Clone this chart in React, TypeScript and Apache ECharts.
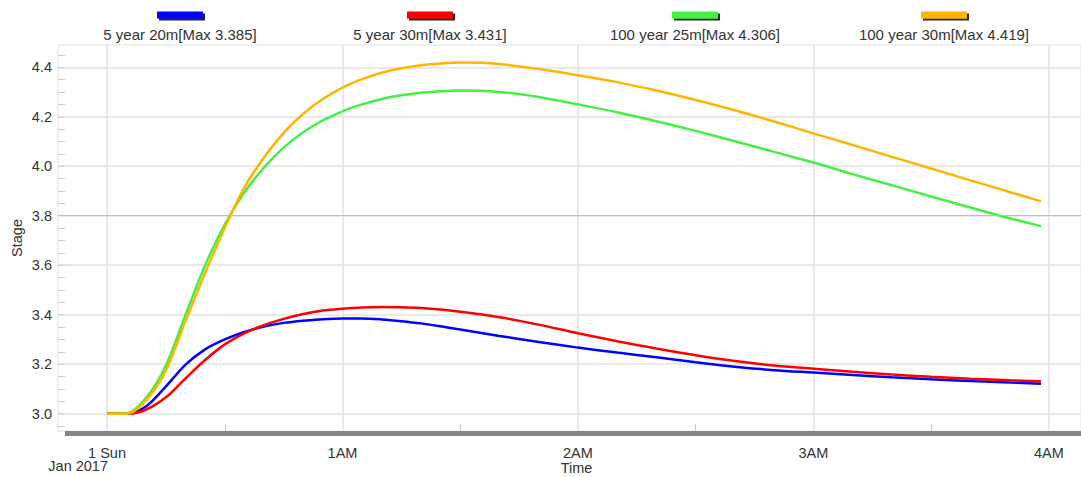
import React, { useEffect, useRef } from "react";
import * as echarts from "echarts";

const seriesNames = [
  "5 year 20m[Max 3.385]",
  "5 year 30m[Max 3.431]",
  "100 year 25m[Max 4.306]",
  "100 year 30m[Max 4.419]",
];
const seriesColors = ["#0000ff", "#ff0000", "#44f044", "#ffb400"];

// minutes after 1 Jan 2017 00:00
const times = [0, 5, 10, 15, 20, 25, 30, 35, 40, 45, 50, 55, 60, 65, 70, 75, 80, 85, 90, 100, 110, 120, 130, 140, 150, 160, 170, 180, 190, 200, 210, 220, 230, 238];

const blue5y20 = [3.0, 3.0, 3.03, 3.11, 3.198, 3.26, 3.3, 3.33, 3.352, 3.367, 3.376, 3.382, 3.385, 3.385, 3.381, 3.374, 3.365, 3.353, 3.34, 3.314, 3.29, 3.267, 3.247, 3.228, 3.208, 3.19, 3.176, 3.166, 3.156, 3.147, 3.139, 3.132, 3.126, 3.121];
const red5y30 = [3.0, 3.0, 3.017, 3.066, 3.143, 3.217, 3.28, 3.325, 3.358, 3.383, 3.403, 3.417, 3.424, 3.429, 3.431, 3.43, 3.427, 3.421, 3.412, 3.39, 3.36, 3.325, 3.293, 3.263, 3.236, 3.213, 3.195, 3.182, 3.169, 3.158, 3.149, 3.141, 3.135, 3.131];
const green100y25 = [3.0, 3.002, 3.065, 3.195, 3.4, 3.6, 3.765, 3.895, 3.995, 4.075, 4.137, 4.185, 4.222, 4.25, 4.272, 4.287, 4.297, 4.303, 4.306, 4.3, 4.28, 4.25, 4.218, 4.182, 4.143, 4.101, 4.058, 4.015, 3.968, 3.923, 3.878, 3.833, 3.79, 3.758];
const orange100y30 = [3.0, 3.0, 3.055, 3.175, 3.375, 3.57, 3.75, 3.915, 4.035, 4.135, 4.212, 4.272, 4.318, 4.352, 4.378, 4.396, 4.408, 4.415, 4.419, 4.413, 4.393, 4.368, 4.34, 4.306, 4.268, 4.226, 4.181, 4.133, 4.086, 4.038, 3.991, 3.943, 3.896, 3.858];

const seriesValues = [blue5y20, red5y30, green100y25, orange100y30];

const xMajorTicks = [0, 60, 120, 180, 240];
const xMajorLabels = ["1 Sun", "1AM", "2AM", "3AM", "4AM"];
const xMinorTicks = [30, 90, 150, 210];
const yMajorTicks = [3.0, 3.2, 3.4, 3.6, 3.8, 4.0, 4.2, 4.4];
const yMinorTicks = [2.95, 3.0, 3.05, 3.1, 3.15, 3.2, 3.25, 3.3, 3.35, 3.4, 3.45, 3.5, 3.55, 3.6, 3.65, 3.7, 3.75, 3.8, 3.85, 3.9, 3.95, 4.0, 4.05, 4.1, 4.15, 4.2, 4.25, 4.3, 4.35, 4.4, 4.45];
const thresholdValue = 3.8;

const legendCenters = [180, 430, 695, 944];

const FONT = "Arial, 'Liberation Sans', sans-serif";
const AXIS_FONT = 14.5;

export default function App() {
  const ref = useRef<HTMLDivElement>(null);
  useEffect(() => {
    if (!ref.current) return;
    const chart = echarts.init(ref.current, null, { renderer: "svg" });
    const xMin = -12.5;
    const xMax = 248.2;
    const yMin = 2.93;
    const yMax = 4.49;

    const legends = seriesNames.map((name, i) => ({
      show: true,
      data: [name],
      left: legendCenters[i] - 110 - 5,
      top: 9,
      padding: 0,
      icon: "none",
      itemWidth: 0,
      itemHeight: 0,
      selectedMode: false,
      formatter: (n: string) => `{bar| }\n{t|${n}}`,
      textStyle: {
        rich: {
          bar: {
            width: 46,
            height: 7,
            backgroundColor: seriesColors[i],
            shadowColor: "rgba(0,0,0,0.85)",
            shadowOffsetX: 2,
            shadowOffsetY: 2,
            align: "center",
          },
          t: {
            width: 220,
            align: "center",
            fontSize: 15,
            color: "#333",
            fontFamily: FONT,
            lineHeight: 32,
          },
        },
      },
    }));

    const option: any = {
      animation: false,
      textStyle: { fontFamily: FONT },
      legend: legends,
      grid: {
        left: 58,
        top: 45,
        right: 0,
        bottom: 46,
        outerBoundsMode: "none",
        containLabel: false,
        show: true,
        borderColor: "#e2e2e2",
        borderWidth: 1,
        backgroundColor: "#fff",
      },
      xAxis: [
        {
          type: "value",
          min: xMin,
          max: xMax,
          name: "Time",
          nameLocation: "middle",
          nameGap: 29,
          nameMoveOverlap: false,
          nameTextStyle: { fontSize: AXIS_FONT, color: "#333", padding: [0, 0, 0, 14] },
          axisLine: { show: false, onZero: false },
          axisTick: { show: false, customValues: xMajorTicks },
          axisLabel: {
            customValues: xMajorTicks,
            margin: 14,
            fontSize: AXIS_FONT,
            color: "#333",
            formatter: (v: number) => {
              const idx = xMajorTicks.indexOf(Math.round(v));
              return idx >= 0 ? xMajorLabels[idx] : "";
            },
          },
          splitLine: { show: true, lineStyle: { color: "#e2e2e2", width: 1.5 } },
        },
        {
          type: "value",
          min: xMin,
          max: xMax,
          position: "bottom",
          axisLine: { show: false, onZero: false },
          axisTick: {
            show: true,
            inside: true,
            length: 7,
            customValues: xMinorTicks,
            lineStyle: { color: "#c8c8c8" },
          },
          axisLabel: { show: false },
          splitLine: { show: false },
        },
      ],
      yAxis: [
        {
          type: "value",
          min: yMin,
          max: yMax,
          name: "Stage",
          nameLocation: "middle",
          nameGap: 34,
          nameMoveOverlap: false,
          nameTextStyle: { fontSize: AXIS_FONT, color: "#333" },
          axisLine: { show: false, onZero: false },
          axisTick: { show: false, customValues: yMajorTicks },
          axisLabel: {
            customValues: yMajorTicks,
            margin: 6,
            fontSize: AXIS_FONT,
            color: "#333",
            formatter: (v: number) => v.toFixed(1),
          },
          splitLine: { show: true, lineStyle: { color: "#e2e2e2", width: 1.5 } },
        },
        {
          type: "value",
          min: yMin,
          max: yMax,
          position: "left",
          axisLine: { show: false, onZero: false },
          axisTick: {
            show: true,
            inside: true,
            length: 7,
            customValues: yMinorTicks,
            lineStyle: { color: "#cfcfcf" },
          },
          axisLabel: { show: false },
          splitLine: { show: false },
        },
      ],
      graphic: [
        {
          type: "rect",
          shape: { x: 65, y: 431, width: 1016, height: 5 },
          style: { fill: "#858585" },
          silent: true,
        },
        {
          type: "text",
          x: 108,
          y: 466,
          style: {
            text: "Jan 2017",
            fontSize: AXIS_FONT,
            fill: "#333",
            fontFamily: FONT,
            align: "right",
            verticalAlign: "middle",
          },
          silent: true,
        },
      ],
      series: seriesNames.map((name, i) => ({
        name,
        type: "line",
        xAxisIndex: 0,
        yAxisIndex: 0,
        data: times.map((t, k) => [t, seriesValues[i][k]]),
        smooth: 0.3,
        showSymbol: false,
        symbol: "none",
        color: seriesColors[i],
        lineStyle: { color: seriesColors[i], width: 2.5 },
        silent: true,
        markLine:
          i === 0
            ? {
                silent: true,
                symbol: "none",
                label: { show: false },
                lineStyle: { color: "#bdbdbd", width: 1.2, type: "solid" },
                data: [{ yAxis: thresholdValue }],
              }
            : undefined,
      })),
    };
    chart.setOption(option);
    return () => chart.dispose();
  }, []);
  return (
    <div
      ref={ref}
      style={{ position: "fixed", left: 0, top: 0, width: 1081, height: 477, background: "#fff" }}
    />
  );
}
